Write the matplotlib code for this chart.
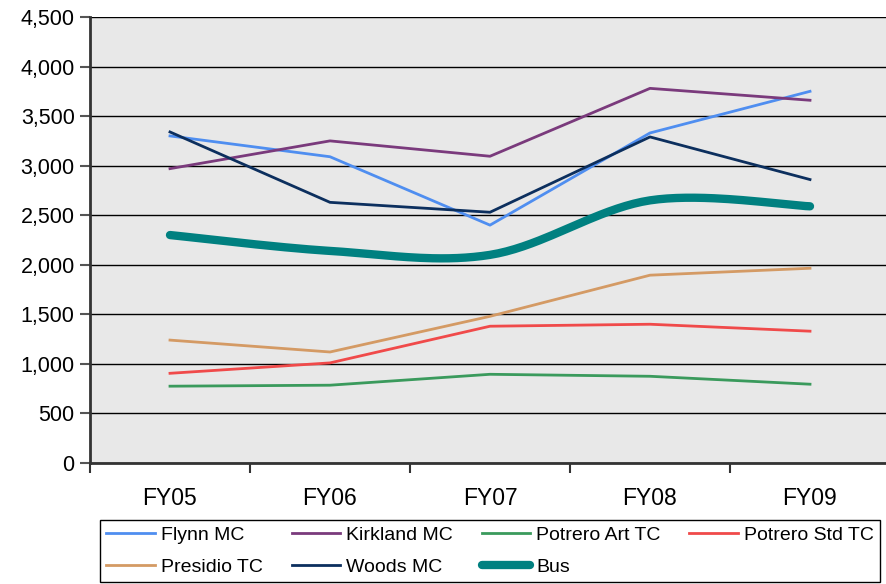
import numpy as np
import matplotlib
matplotlib.use("Agg")
import matplotlib.pyplot as plt
from matplotlib.ticker import FuncFormatter, MultipleLocator, FixedLocator

# valores
years = ["FY05", "FY06", "FY07", "FY08", "FY09"]
flynn = [3300, 3090, 2400, 3330, 3750]
kirkland = [2970, 3250, 3095, 3780, 3660]
potrero_art = [775, 785, 895, 875, 795]
potrero_std = [905, 1010, 1380, 1400, 1330]
presidio = [1240, 1120, 1480, 1895, 1965]
woods = [3340, 2630, 2530, 3290, 2860]
bus = [2300, 2140, 2100, 2650, 2590]

plt.rcParams['font.family'] = ['Liberation Sans', 'DejaVu Sans']


def smooth(xs, ys, n=40):
    # curva suave tipo Excel (Catmull-Rom / Bezier)
    xs = np.asarray(xs, float)
    ys = np.asarray(ys, float)
    px = np.concatenate([[xs[0]], xs, [xs[-1]]])
    py = np.concatenate([[ys[0]], ys, [ys[-1]]])
    outx, outy = [], []
    t = np.linspace(0, 1, n)
    for i in range(1, len(px) - 2):
        p0 = np.array([px[i], py[i]])
        p3 = np.array([px[i + 1], py[i + 1]])
        c1 = p0 + (np.array([px[i + 1], py[i + 1]]) - np.array([px[i - 1], py[i - 1]])) / 6
        c2 = p3 - (np.array([px[i + 2], py[i + 2]]) - np.array([px[i], py[i]])) / 6
        b = ((1 - t) ** 3)[:, None] * p0 + (3 * (1 - t) ** 2 * t)[:, None] * c1 \
            + (3 * (1 - t) * t ** 2)[:, None] * c2 + (t ** 3)[:, None] * p3
        outx.extend(b[:, 0])
        outy.extend(b[:, 1])
    return outx, outy


fig = plt.figure(figsize=(8.86, 5.84), dpi=100)
ax = fig.add_axes([90 / 886, 121 / 584, 800 / 886, 446 / 584])
ax.set_facecolor("#e8e8e8")

x = np.arange(len(years))
l_flynn, = ax.plot(x, flynn, color="#4f8ef0", lw=2, label="Flynn MC")
l_kirk, = ax.plot(x, kirkland, color="#7a3a7c", lw=2, label="Kirkland MC")
l_art, = ax.plot(x, potrero_art, color="#3a9a5c", lw=2, label="Potrero Art TC")
l_std, = ax.plot(x, potrero_std, color="#f04a4a", lw=2, label="Potrero Std TC")
l_pres, = ax.plot(x, presidio, color="#d49a64", lw=2, label="Presidio TC")
l_woods, = ax.plot(x, woods, color="#0c2f5e", lw=2, label="Woods MC")
sx, sy = smooth(x, bus)
l_bus, = ax.plot(sx, sy, color="#008080", lw=6, solid_capstyle="round", label="Bus")

ax.set_xlim(-0.5, 4.5)
ax.set_ylim(0, 4500)
ax.yaxis.set_major_locator(MultipleLocator(500))
ax.yaxis.set_major_formatter(FuncFormatter(lambda v, p: f"{int(v):,}"))
ax.grid(axis="y", color="black", lw=1)
ax.set_axisbelow(True)

ax.set_xticks(x)
ax.set_xticklabels(years)
ax.xaxis.set_minor_locator(FixedLocator(np.arange(-0.5, 5, 1)))
ax.tick_params(axis="x", which="major", length=0, pad=17, labelsize=16.5)
ax.tick_params(axis="x", which="minor", length=7, width=1.5, color="#333333", direction="out")
ax.tick_params(axis="y", length=7, width=1.5, color="#555555", labelsize=15.5, pad=4)

for s in ["top", "right"]:
    ax.spines[s].set_visible(False)
ax.spines["left"].set_color("#333333")
ax.spines["left"].set_linewidth(2)
ax.spines["bottom"].set_color("#333333")
ax.spines["bottom"].set_linewidth(2)

# ordem para preencher por linhas
handles = [l_flynn, l_pres, l_kirk, l_woods, l_art, l_bus, l_std]
leg = fig.legend(handles=handles, labels=[h.get_label() for h in handles],
                 ncol=4, loc="lower left", bbox_to_anchor=(100 / 886, 2 / 584, 780 / 886, 64 / 584),
                 mode="expand", fancybox=False, edgecolor="black", framealpha=1,
                 prop={"family": ["Liberation Sans Narrow", "Liberation Sans"], "size": 14},
                 handlelength=2.5, handletextpad=0.3, columnspacing=1.0,
                 borderaxespad=0, labelspacing=0.72, borderpad=0.32)
leg.get_frame().set_linewidth(1)

fig.savefig("out.png", dpi=100)
